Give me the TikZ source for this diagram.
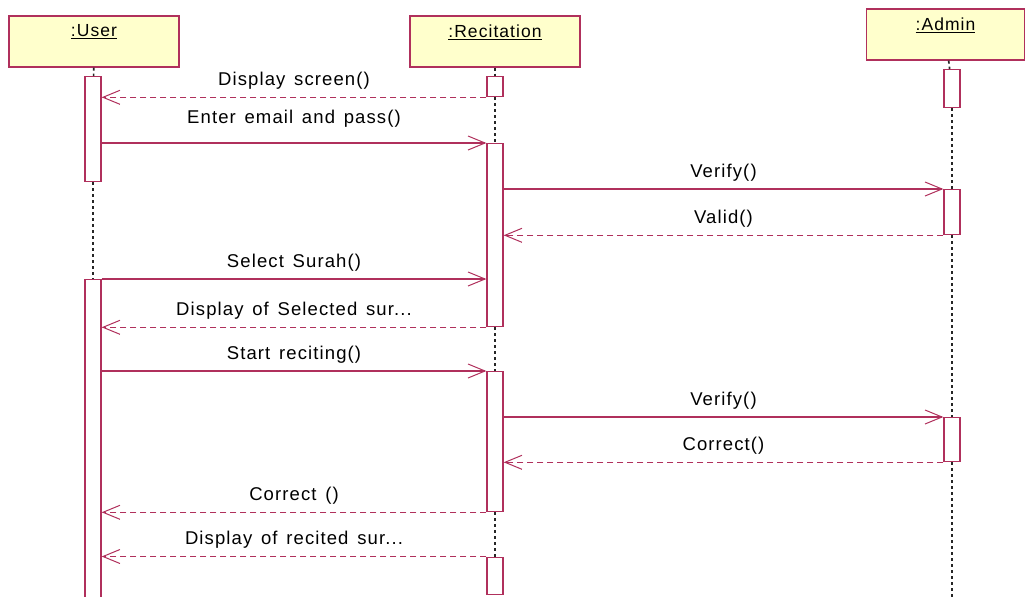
\documentclass[tikz,border=0pt]{standalone}
\usepackage{fontspec}
\setmainfont{Liberation Sans}[LetterSpace=6, WordSpace=1.4]
\usepackage{xcolor}
\usetikzlibrary{arrows.meta,positioning}
\definecolor{seqline}{HTML}{B0305C}
\definecolor{boxfill}{HTML}{FFFFCC}
\tikzset{
	obj/.style={draw=seqline, fill=boxfill, line width=1.3pt, minimum width=170pt, minimum height=51pt, inner sep=0pt},
	objname/.style={font=\fontsize{17.5}{20}\selectfont, inner sep=0pt},
	act/.style={draw=seqline, fill=white, line width=1.3pt, minimum width=16pt, inner sep=0pt, anchor=north},
	life/.style={black!85, line width=1.7pt, dash pattern=on 3pt off 3pt},
	msg/.style={seqline, line width=1.1pt, -{Straight Barb[length=17pt,width=14pt,line width=1pt]}},
	reply/.style={msg, dash pattern=on 6pt off 4pt},
	txt/.style={font=\fontsize{18.5}{20}\selectfont, midway, anchor=base, yshift=12pt, inner sep=0pt, text=black}
}
\begin{document}
\begin{tikzpicture}[x=1pt, y=-1pt]
	\useasboundingbox (0,0) rectangle (1026,597);
	% objects
	\node[obj] (user) at (94,41.5) {};
	\node[obj] (rec) at (495,41.5) {};
	\node[obj, minimum width=158pt] (admin) at (945.5,34.5) {};
	\node[objname, below=9pt of user.north] (username) {\underline{:User}};
	\node[objname, below=9pt of rec.north] (recname) {\underline{:Recitation}};
	\node[objname, below=9pt of admin.north] (adminname) {\underline{:Admin}};
	% activations
	\node[act, minimum height=105pt] (u1) at (93,76) {};
	\node[act, minimum height=322pt] (u2) at (93,279) {};
	\node[act, minimum height=20pt] (r1) at (495,76) {};
	\node[act, minimum height=183pt] (r2) at (495,143) {};
	\node[act, minimum height=140pt] (r3) at (495,371) {};
	\node[act, minimum height=37pt] (r4) at (495,556.5) {};
	\node[act, minimum height=38pt] (a1) at (952,69) {};
	\node[act, minimum height=45pt] (a2) at (952,189) {};
	\node[act, minimum height=44pt] (a3) at (952,417) {};
	\coordinate (aend) at (952,597);
	% lifelines
	\draw[life] (user) -- (u1);
	\draw[life] (u1) -- (u2);
	\draw[life] (rec) -- (r1);
	\draw[life] (r1) -- (r2);
	\draw[life] (r2) -- (r3);
	\draw[life] (r3) -- (r4);
	\draw[life] (admin) -- (a1);
	\draw[life] (a1) -- (a2);
	\draw[life] (a2) -- (a3);
	\draw[life] (a3) -- (aend);
	% messages
	\draw[reply] (r1.south west) -- (u1.east |- r1.south) node[txt] {Display screen()};
	\draw[msg] (u1.east |- r2.north) -- (r2.north west) node[txt, yshift=8pt] {Enter email and pass()};
	\draw[msg] (r2.east |- a2.north) -- (a2.north west) node[txt] {Verify()};
	\draw[reply] (a2.south west) -- (r2.east |- a2.south) node[txt] {Valid()};
	\draw[msg] (u2.north east) -- (r2.west |- u2.north) node[txt] {Select Surah()};
	\draw[reply] (r2.south west) -- (u2.east |- r2.south) node[txt] {Display of Selected sur...};
	\draw[msg] (u2.east |- r3.north) -- (r3.north west) node[txt] {Start reciting()};
	\draw[msg] (r3.east |- a3.north) -- (a3.north west) node[txt] {Verify()};
	\draw[reply] (a3.south west) -- (r3.east |- a3.south) node[txt] {Correct()};
	\draw[reply] (r3.south west) -- (u2.east |- r3.south) node[txt] {Correct ()};
	\draw[reply] (r4.north west) -- (u2.east |- r4.north) node[txt] {Display of recited sur...};
\end{tikzpicture}
\end{document}
